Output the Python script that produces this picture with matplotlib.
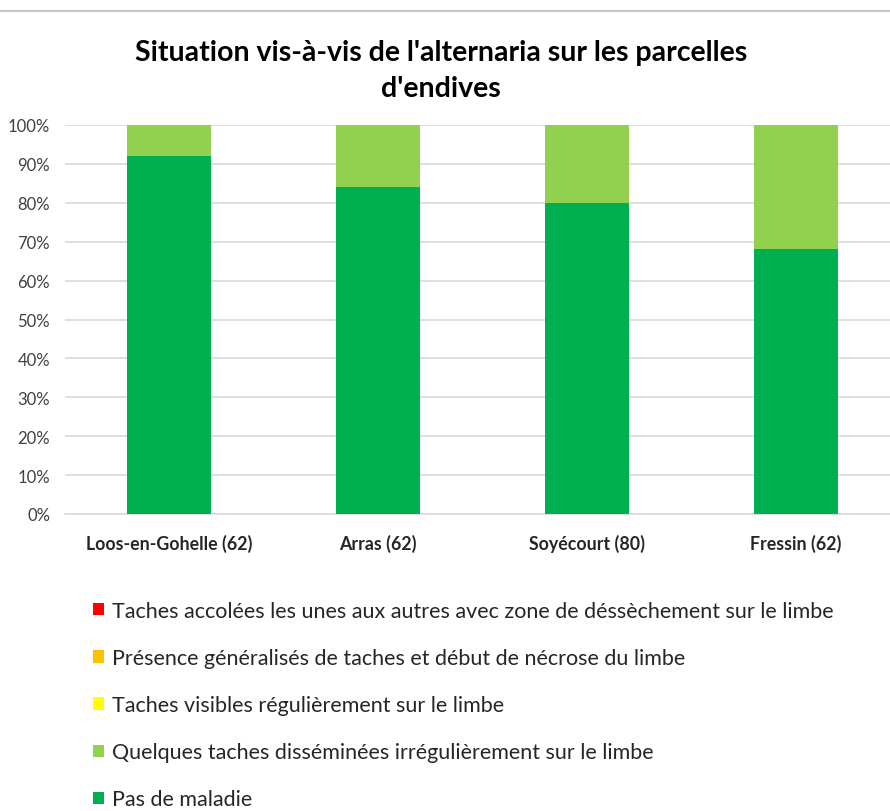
import matplotlib.pyplot as plt
import numpy as np
from matplotlib.lines import Line2D

plt.rcParams['font.family'] = ['Lato', 'DejaVu Sans']

# data (share of parcels, %)
sites = ['Loos-en-Gohelle (62)', 'Arras (62)', 'Soyécourt (80)', 'Fressin (62)']
pas_de_maladie = [92, 84, 80, 68]
quelques_taches = [8, 16, 20, 32]
taches_visibles = [0, 0, 0, 0]
presence_generalisee = [0, 0, 0, 0]
taches_accolees = [0, 0, 0, 0]

labels = ['Pas de maladie',
          'Quelques taches disséminées irrégulièrement sur le limbe',
          'Taches visibles régulièrement sur le limbe',
          'Présence généralisés de taches et début de nécrose du limbe',
          'Taches accolées les unes aux autres avec zone de déssèchement sur le limbe']
colors = ['#00B050', '#92D050', '#FFFF00', '#FFC000', '#FF0000']
series = [pas_de_maladie, quelques_taches, taches_visibles, presence_generalisee, taches_accolees]

fig = plt.figure(figsize=(8.9, 8.12), dpi=100)
ax = fig.add_axes([64.5 / 890, (812 - 515) / 812, 836 / 890, 389 / 812])

x = np.arange(len(sites))
bottom = np.zeros(len(sites))
handles = []
for vals, lab, col in zip(series, labels, colors):
    b = ax.bar(x, vals, 0.4, bottom=bottom, color=col, label=lab, zorder=3)
    handles.append(b)
    bottom += np.array(vals)

ax.set_xlim(-0.5, 3.5)
ax.set_ylim(0, 100)
ax.set_yticks(np.arange(0, 101, 10))
ax.set_yticklabels([f'{v}%' for v in range(0, 101, 10)], fontsize=12, color='#404040')
ax.set_xticks(x)
ax.set_xticklabels(sites, fontsize=12.8, fontweight='bold', color='#262626')
ax.tick_params(length=0)
ax.tick_params(axis='x', pad=14)
ax.tick_params(axis='y', pad=10.4)
ax.grid(axis='y', color='#D9D9D9', linewidth=1.2, zorder=0)
for s in ['top', 'right', 'left']:
    ax.spines[s].set_visible(False)
ax.spines['bottom'].set_color('#D9D9D9')
ax.spines['bottom'].set_linewidth(1.2)

fig.text(441 / 890, 1 - 53 / 812, "Situation vis-à-vis de l'alternaria sur les parcelles",
         ha='center', va='center', fontsize=20.5, fontweight='bold', color='#000000')
fig.text(441 / 890, 1 - 89 / 812, "d'endives",
         ha='center', va='center', fontsize=20.5, fontweight='bold', color='#000000')

leg = fig.legend(handles=handles[::-1], loc='upper left',
                 bbox_to_anchor=(93 / 890, 1 - 602 / 812), frameon=False,
                 borderpad=0, borderaxespad=0,
                 fontsize=15.5, handlelength=0.5, handleheight=0.5,
                 handletextpad=0.37, labelspacing=1.26, labelcolor='#262626')

# spreadsheet grid remnant at the top
fig.add_artist(Line2D([0, 1], [1 - 11.5 / 812] * 2, color='#C8C8C8', linewidth=1.5))

fig.savefig('out.png', dpi=100)
